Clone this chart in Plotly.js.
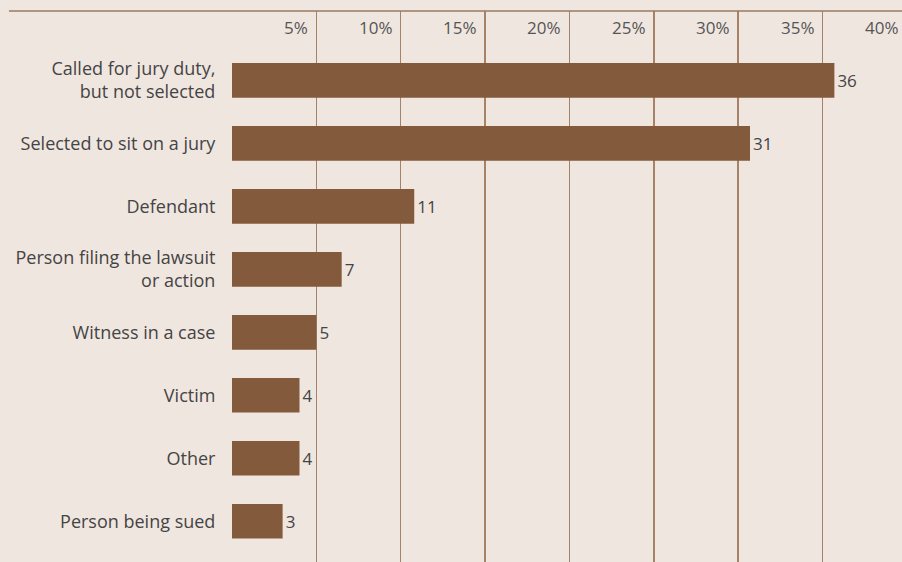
<!DOCTYPE html>
<html>
<head>
<meta charset="utf-8">
<script src="https://cdn.plot.ly/plotly-3.0.1.min.js"></script>
<style>
  html, body { margin: 0; padding: 0; background: #f0e6e0; overflow: hidden; }
  #chart { width: 915px; height: 562px; }
</style>
</head>
<body>
<div id="chart"></div>
<script>
const categories = [
  "Called for jury duty,<br>but not selected",
  "Selected to sit on a jury",
  "Defendant",
  "Person filing the lawsuit<br>or action",
  "Witness in a case",
  "Victim",
  "Other",
  "Person being sued"
];
const values = [35.7, 30.7, 10.8, 6.5, 5.0, 4.0, 4.0, 3.0];
const valueLabels = ["36", "31", "11", "7", "5", "4", "4", "3"];
const tickValues = [5, 10, 15, 20, 25, 30, 35, 40];
const tickLabels = ["5%", "10%", "15%", "20%", "25%", "30%", "35%", "40%"];

const FONT = "'Open Sans', Lato, sans-serif";
const TEXT = "#444444";

const trace = {
  type: "bar",
  orientation: "h",
  y: categories,
  x: values,
  text: valueLabels,
  textposition: "outside",
  cliponaxis: false,
  textfont: { family: FONT, size: 17, color: TEXT },
  marker: { color: "#845a3c" },
  hoverinfo: "skip"
};

const tickAnnotations = tickValues.map((v, i) => ({
  x: v, y: 1, xref: "x", yref: "paper",
  text: tickLabels[i],
  showarrow: false,
  xanchor: "right", yanchor: "top",
  xshift: -6, yshift: -3,
  font: { family: FONT, size: 17, color: "#555555" }
}));

const layout = {
  width: 915,
  height: 562,
  margin: { l: 232, r: 3, t: 11, b: 0 },
  paper_bgcolor: "#f0e6e0",
  plot_bgcolor: "#f0e6e0",
  showlegend: false,
  bargap: 0.45,
  font: { family: FONT, size: 18, color: TEXT },
  xaxis: {
    range: [0, 40.3],
    tickvals: tickValues,
    showticklabels: false,
    showgrid: true,
    gridcolor: "#a58268",
    gridwidth: 1.5,
    zeroline: false,
    showline: false,
    ticks: ""
  },
  yaxis: {
    type: "category",
    categoryorder: "array",
    categoryarray: categories,
    range: [7.647, -1.102],
    showgrid: false,
    zeroline: false,
    showline: false,
    ticks: "outside",
    ticklen: 12,
    tickcolor: "rgba(0,0,0,0)",
    tickfont: { family: FONT, size: 18, color: TEXT }
  },
  annotations: tickAnnotations,
  shapes: [{
    type: "line",
    xref: "paper", yref: "paper",
    x0: -0.328, x1: 1.1, y0: 1, y1: 1,
    line: { color: "#9b7a60", width: 1.5 }
  }]
};

Plotly.newPlot("chart", [trace], layout, { displayModeBar: false, staticPlot: true });
</script>
</body>
</html>
